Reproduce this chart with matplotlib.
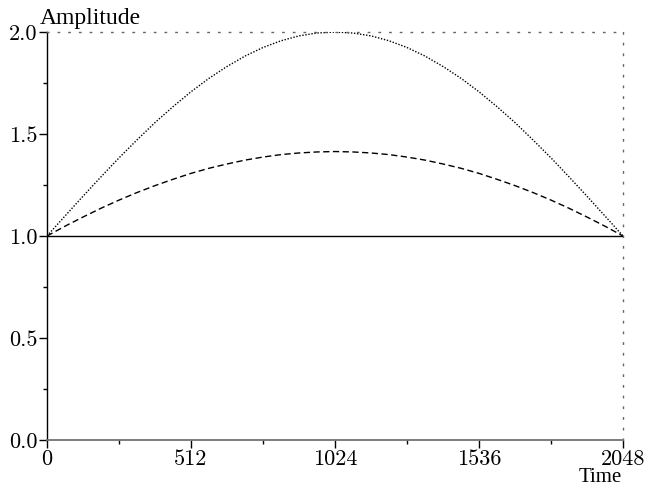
import numpy as np
import matplotlib
matplotlib.use('Agg')
import matplotlib.pyplot as plt
from matplotlib.ticker import MultipleLocator

# time samples (every 64 steps)
time = np.arange(0, 2049, 64)

half_dotted = [1.000, 1.098, 1.195, 1.290, 1.383, 1.471, 1.556, 1.634, 1.707,
               1.773, 1.831, 1.882, 1.924, 1.957, 1.981, 1.995, 2.000]
half_dashed = [1.000, 1.048, 1.093, 1.136, 1.176, 1.213, 1.247, 1.278, 1.307,
               1.332, 1.353, 1.372, 1.387, 1.399, 1.407, 1.412, 1.414]
dotted = half_dotted + half_dotted[-2::-1]
dashed = half_dashed + half_dashed[-2::-1]
solid = [1.0] * len(time)

xticks = [0, 512, 1024, 1536, 2048]
yticks = [0.0, 0.5, 1.0, 1.5, 2.0]

fig = plt.figure(figsize=(6.46, 4.88), dpi=100)
ax = fig.add_axes([47 / 646, 48 / 488, 576 / 646, 408 / 488])

ax.plot(time, solid, color='black', lw=1.0)
ax.plot(time, dashed, color='black', lw=1.0, linestyle=(0, (4.5, 2.5)))
ax.plot(time, dotted, color='black', lw=1.0, linestyle=(0, (1, 1.2)))

ax.set_xlim(0, 2048)
ax.set_ylim(0, 2)
ax.set_xticks(xticks)
ax.set_yticks(yticks)
ax.xaxis.set_minor_locator(MultipleLocator(256))
ax.yaxis.set_minor_locator(MultipleLocator(0.25))

tick_font = {'family': 'cmr10', 'size': 16}
ax.set_xticklabels([str(v) for v in xticks], fontdict=tick_font)
ax.set_yticklabels(['%.1f' % v for v in yticks], fontdict=tick_font)

ax.tick_params(which='major', direction='out', length=6, width=1, color='black', pad=1)
ax.tick_params(which='minor', direction='out', length=3, width=1, color='black')

for side in ['top', 'right']:
    ax.spines[side].set_linestyle((0, (1, 6.7)))
    ax.spines[side].set_linewidth(1.0)
    ax.spines[side].set_color('0.4')
ax.spines['bottom'].set_color('0.45')
ax.spines['bottom'].set_linewidth(1.3)
ax.spines['left'].set_linewidth(1.0)

ax.text(40 / 646, 464 / 488, 'Amplitude', transform=fig.transFigure,
        fontfamily='Liberation Serif', fontsize=17, ha='left', va='baseline')
ax.text(622 / 646, 1 / 488, 'Time', transform=fig.transFigure,
        fontfamily='Liberation Serif', fontsize=15, ha='right', va='bottom')

fig.savefig('out.png', dpi=100)
